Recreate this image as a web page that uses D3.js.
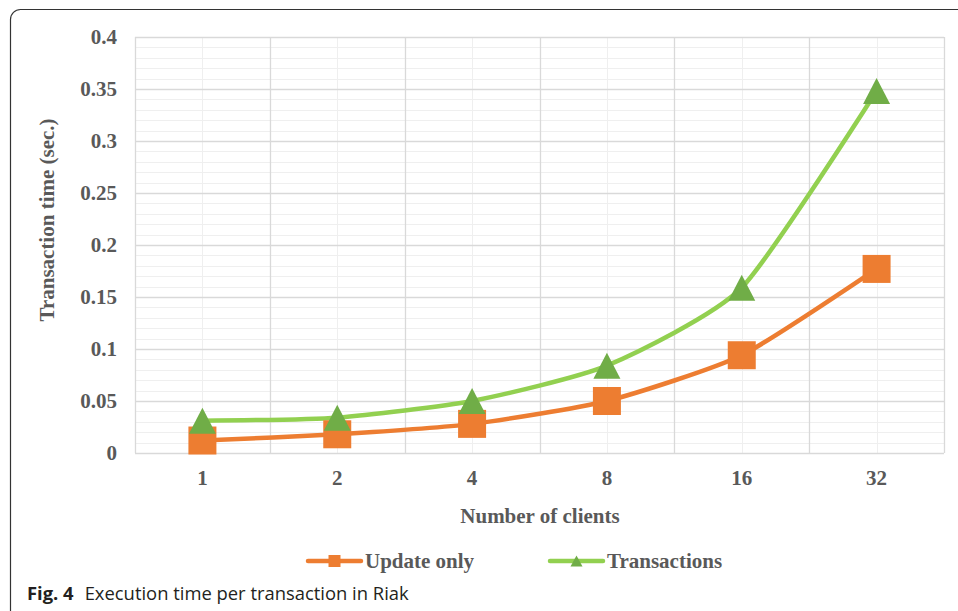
<!DOCTYPE html>
<html>
<head>
<meta charset="utf-8">
<script src="https://cdn.jsdelivr.net/npm/d3@7"></script>
<style>
  body { margin: 0; background: #fff; }
  svg { display: block; }
</style>
</head>
<body>
<svg id="chart" width="958" height="611"></svg>
<script>
const clients = ["1", "2", "4", "8", "16", "32"];
const updateOnly = [0.012, 0.018, 0.028, 0.050, 0.094, 0.177];
const transactions = [0.031, 0.034, 0.050, 0.084, 0.159, 0.348];
const yTicks = [0, 0.05, 0.1, 0.15, 0.2, 0.25, 0.3, 0.35, 0.4];

const svg = d3.select("#chart");
const margin = {top: 37, right: 14, bottom: 158, left: 135};
const width = 958, height = 611;

const x = d3.scaleBand()
    .domain(clients)
    .range([margin.left, width - margin.right]);

const y = d3.scaleLinear()
    .domain([0, 0.4])
    .range([height - margin.bottom, margin.top]);

const textCol = "#595959";
const serif = "'Liberation Serif', 'Times New Roman', serif";
const fs = 21;

// frame round the figure
svg.append("path")
    .attr("d", `M ${width} 9.5 H 20.5 a 10 10 0 0 0 -10 10 V ${height}`)
    .attr("fill", "none")
    .attr("stroke", "#333")
    .attr("stroke-width", 1.2);

// minor horizontal grid
const minor = d3.range(0, 0.4001, 0.01).filter(v => Math.round(v * 100) % 5 !== 0);
svg.append("g").selectAll("line").data(minor).join("line")
    .attr("x1", margin.left).attr("x2", width - margin.right)
    .attr("y1", d => Math.round(y(d)) + 0.5).attr("y2", d => Math.round(y(d)) + 0.5)
    .attr("stroke", "#efefef").attr("stroke-width", 1);

// minor vertical grid at category centres
svg.append("g").selectAll("line").data(clients).join("line")
    .attr("x1", d => Math.round(x(d) + x.bandwidth() / 2) + 0.5)
    .attr("x2", d => Math.round(x(d) + x.bandwidth() / 2) + 0.5)
    .attr("y1", y(0.4)).attr("y2", y(0))
    .attr("stroke", "#efefef").attr("stroke-width", 1);

// major horizontal grid
svg.append("g").selectAll("line").data(yTicks).join("line")
    .attr("x1", margin.left).attr("x2", width - margin.right)
    .attr("y1", d => Math.round(y(d)) + 0.5).attr("y2", d => Math.round(y(d)) + 0.5)
    .attr("stroke", "#d9d9d9").attr("stroke-width", 1.3);

// major vertical grid at category edges
const edges = clients.map(d => x(d)).concat([width - margin.right]);
svg.append("g").selectAll("line").data(edges).join("line")
    .attr("x1", d => Math.round(d) + 0.5).attr("x2", d => Math.round(d) + 0.5)
    .attr("y1", y(0.4)).attr("y2", y(0))
    .attr("stroke", "#d9d9d9").attr("stroke-width", 1.3);

// y tick labels
svg.append("g").selectAll("text").data(yTicks).join("text")
    .attr("x", 117)
    .attr("y", d => y(d) + 6.5)
    .attr("text-anchor", "end")
    .attr("font-family", serif)
    .attr("font-weight", "bold")
    .attr("font-size", fs)
    .attr("fill", textCol)
    .text(d => d);

// x tick labels
svg.append("g").selectAll("text").data(clients).join("text")
    .attr("x", d => x(d) + x.bandwidth() / 2)
    .attr("y", 485)
    .attr("text-anchor", "middle")
    .attr("font-family", serif)
    .attr("font-weight", "bold")
    .attr("font-size", fs)
    .attr("fill", textCol)
    .text(d => d);

// axis titles
svg.append("text")
    .attr("x", 540)
    .attr("y", 523)
    .attr("text-anchor", "middle")
    .attr("font-family", serif).attr("font-weight", "bold")
    .attr("font-size", fs).attr("fill", textCol)
    .text("Number of clients");

svg.append("text")
    .attr("transform", "translate(54, 220) rotate(-90)")
    .attr("text-anchor", "middle")
    .attr("font-family", serif).attr("font-weight", "bold")
    .attr("font-size", fs).attr("fill", textCol)
    .text("Transaction time (sec.)");

// triangle centred on its bounding box
function triangle(w, h) {
    return `M0,${-h / 2} L${w / 2},${h / 2} L${-w / 2},${h / 2} Z`;
}
function square(s) {
    return `M${-s / 2},${-s / 2} h${s} v${s} h${-s} Z`;
}

// series
const series = [
    {name: "Update only", values: updateOnly, line: "#ed7d31", fill: "#ed7d31", marker: square(28), key: square(12)},
    {name: "Transactions", values: transactions, line: "#92d050", fill: "#70ad47", marker: triangle(27, 26), key: triangle(12, 11)}
];

const cx = d => x(d) + x.bandwidth() / 2;

const lineDrawer = d3.line()
    .curve(d3.curveCardinal.tension(0.4))
    .x(d => cx(d.c))
    .y(d => y(d.v));

series.forEach(s => {
    const pts = clients.map((c, i) => ({c: c, v: s.values[i]}));
    svg.append("path")
        .datum(pts)
        .attr("fill", "none")
        .attr("stroke", s.line)
        .attr("stroke-width", 4.5)
        .attr("stroke-linejoin", "round")
        .attr("stroke-linecap", "round")
        .attr("d", lineDrawer);
});

series.forEach(s => {
    const pts = clients.map((c, i) => ({c: c, v: s.values[i]}));
    svg.append("g").selectAll("path").data(pts).join("path")
        .attr("transform", d => `translate(${cx(d.c)}, ${y(d.v)})`)
        .attr("fill", s.fill)
        .attr("d", s.marker);
});

// legend
const legend = [
    {s: series[0], x0: 308, tx: 365},
    {s: series[1], x0: 550, tx: 607}
];
const ly = 561;
legend.forEach(l => {
    const g = svg.append("g");
    g.append("line")
        .attr("x1", l.x0).attr("x2", l.x0 + 53)
        .attr("y1", ly).attr("y2", ly)
        .attr("stroke", l.s.line).attr("stroke-width", 4.5)
        .attr("stroke-linecap", "round");
    g.append("path")
        .attr("transform", `translate(${l.x0 + 26.5}, ${ly})`)
        .attr("fill", l.s.fill)
        .attr("d", l.s.key);
    g.append("text")
        .attr("x", l.tx).attr("y", ly + 7)
        .attr("font-family", serif).attr("font-weight", "bold")
        .attr("font-size", fs).attr("fill", textCol)
        .text(l.s.name);
});

// caption
const cap = svg.append("text")
    .attr("x", 27).attr("y", 600)
    .attr("font-family", "'Open Sans', 'Noto Sans', sans-serif")
    .attr("font-size", 18.4).attr("fill", "#231f20");
cap.append("tspan").attr("font-weight", "bold").text("Fig. 4");
cap.append("tspan").attr("dx", 11).text("Execution time per transaction in Riak");
</script>
</body>
</html>
